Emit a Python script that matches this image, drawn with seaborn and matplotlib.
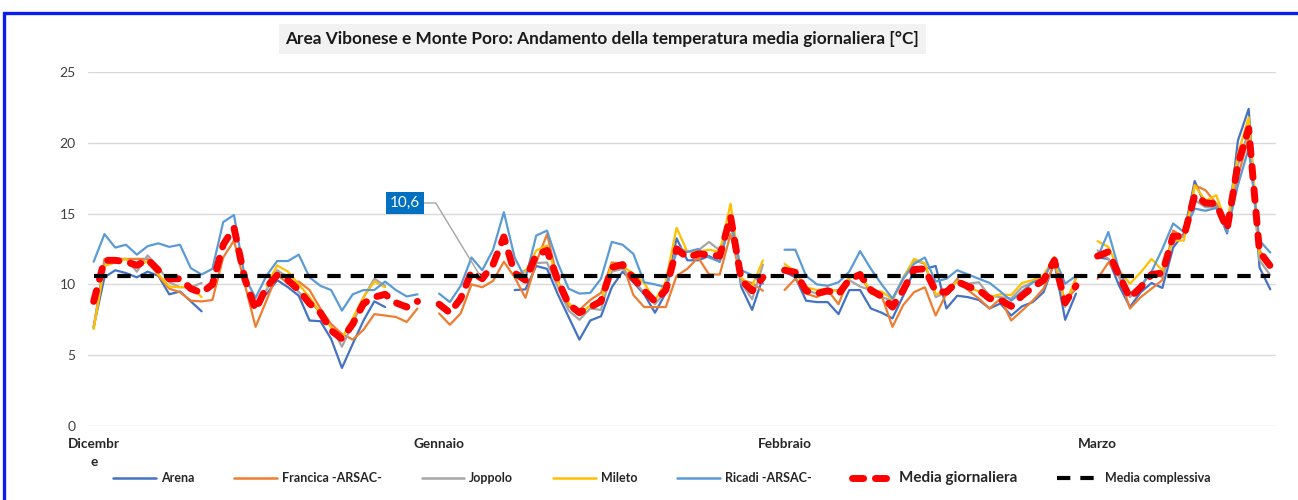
import numpy as np
import pandas as pd
import seaborn as sns
import matplotlib.pyplot as plt
from matplotlib.lines import Line2D
from matplotlib.patches import Rectangle

nan = np.nan

# Etichette dei mesi sull'asse x
mesi = ["Dicembr\ne", "Gennaio", "Febbraio", "Marzo"]

titolo = "Area Vibonese e Monte Poro: Andamento della temperatura media giornaliera [°C]"

stazioni = ["Arena", "Francica -ARSAC-", "Joppolo", "Mileto", "Ricadi -ARSAC-"]
colori = ["#4472C4", "#ED7D31", "#A5A5A5", "#FFC000", "#5B9BD5"]

# Dicembre (1-31)
arena_dic = [7.0, 10.5, 11.0, 10.8, 10.5, 10.9, 10.6, 9.3, 9.5, 8.8, 8.1, nan, nan, nan, nan, nan,
             9.3, 10.3, 9.8, 9.2, 7.45, 7.4, 6.15, 4.1, 5.8, 7.45, 8.8, 8.4, nan, nan, nan]
francica_dic = [6.9, 11.8, 11.8, 11.8, 11.8, 11.8, 10.6, 9.7, 9.45, 8.85, 8.8, 8.9, 11.9, 13.1, 10.0, 7.0,
                8.85, 10.7, 10.05, 10.2, 9.6, 8.3, 7.2, 6.5, 6.1, 6.8, 7.9, 7.8, 7.7, 7.35, 8.3]
joppolo_dic = [7.0, 11.5, 11.65, 11.8, 10.9, 12.05, 11.2, 10.15, 9.8, 9.8, 10.1, nan, nan, nan, nan, nan,
               9.6, 11.0, 10.5, 9.45, 8.75, 8.05, 7.0, 5.6, 7.2, 9.1, 10.4, 9.9, nan, nan, nan]
mileto_dic = [6.85, 11.3, 11.55, 11.8, 11.25, 11.65, 10.7, 9.85, 9.8, 9.85, 9.1, nan, nan, nan, nan, nan,
              9.9, 11.35, 10.9, 10.0, 9.1, 8.0, 6.95, 6.2, 7.6, 9.1, 10.2, 9.8, nan, nan, nan]
ricadi_dic = [11.6, 13.55, 12.6, 12.8, 12.1, 12.7, 12.9, 12.65, 12.8, 11.15, 10.7, 11.1, 14.4, 14.9, 10.5, 9.05,
              10.6, 11.65, 11.65, 12.1, 10.5, 9.9, 9.6, 8.15, 9.3, 9.6, 9.6, 10.2, 9.6, 9.15, 9.3]
media_dic = [8.8, 11.7, 11.7, 11.6, 11.35, 11.75, 11.0, 10.4, 10.4, 9.7, 9.4, 10.0, 12.8, 14.0, 10.4, 8.2,
             9.8, 10.65, 10.3, 9.6, 8.65, 8.0, 6.75, 6.15, 7.2, 8.65, 9.1, 9.3, 8.7, 8.4, 8.8]

# Gennaio (1-31)
arena_gen = [nan, nan, nan, nan, nan, nan, nan, 9.6, 9.65, 11.3, 11.1, 9.3, 7.7, 6.1, 7.45, 7.75,
             9.8, 10.9, 10.15, 9.3, 8.0, 9.4, 13.25, 11.7, 11.7, 12.0, 11.6, 14.7, 9.8, 8.2, 10.5]
francica_gen = [7.95, 7.15, 7.95, 10.0, 9.8, 10.25, 11.6, 10.5, 9.05, 11.55, 13.55, 10.3, 8.4, 8.2, 8.9, 9.4,
                11.55, 11.45, 9.25, 8.4, 8.4, 8.4, 10.6, 11.1, 11.9, 10.7, 10.7, 13.55, 10.3, 10.1, 9.55]
joppolo_gen = [nan, nan, nan, nan, nan, nan, nan, 10.6, 11.0, 11.5, 11.55, 9.8, 8.15, 7.5, 8.3, 8.2,
               10.9, 11.1, 10.3, 9.4, 8.6, 9.5, 12.7, 12.3, 12.4, 13.0, 12.4, 14.5, 10.1, 8.95, 11.4]
mileto_gen = [nan, nan, nan, nan, nan, nan, nan, 10.6, 10.9, 12.4, 12.75, 10.2, 8.7, 7.9, 8.5, 8.8,
              11.45, 11.3, 10.75, 10.1, 8.85, 10.2, 14.0, 12.3, 12.3, 12.45, 12.3, 15.7, 10.45, 9.9, 11.7]
ricadi_gen = [9.35, 8.75, 9.9, 11.9, 11.0, 12.45, 15.1, 11.9, 10.4, 13.45, 13.8, 11.5, 9.7, 9.35, 9.4, 10.4,
              13.0, 12.8, 12.15, 10.15, 10.0, 9.8, 12.3, 12.3, 12.5, 11.9, 11.6, 14.6, 11.0, 10.65, 10.05]
media_gen = [8.6, 8.0, 9.0, 10.9, 10.4, 11.4, 13.35, 10.8, 10.3, 12.1, 12.4, 10.3, 8.6, 8.0, 8.4, 8.8,
             11.2, 11.4, 10.45, 9.55, 8.8, 9.6, 12.5, 11.9, 12.15, 12.1, 12.0, 14.8, 10.3, 9.55, 10.5]

# Febbraio (1-28)
arena_feb = [10.9, 10.5, 8.85, 8.75, 8.75, 7.9, 9.6, 9.6, 8.3, 8.0, 7.6, 9.2, 11.0, 11.1, 11.3, 8.3,
             9.2, 9.1, 8.9, 8.3, 8.65, 7.8, 8.45, 8.75, 9.45, 11.55, 7.5, 9.35]
francica_feb = [9.6, 10.4, 9.35, 9.1, 9.6, 8.6, 10.5, 10.7, 9.35, 9.2, 7.0, 8.55, 9.45, 9.8, 7.8, 9.35,
                10.4, 9.6, 9.0, 8.3, 9.0, 7.45, 8.15, 8.85, 9.7, 11.45, 8.8, 9.7]
joppolo_feb = [11.2, 11.0, 9.6, 9.35, 9.6, 9.6, 10.3, 9.85, 9.6, 9.1, 8.85, 10.5, 11.7, 11.45, 9.1, 9.45,
               10.3, 10.05, 10.15, 9.2, 9.1, 9.0, 9.8, 10.15, 10.5, 11.7, 8.4, 10.5]
mileto_feb = [11.45, 10.9, 9.8, 9.6, 9.7, 9.5, 10.45, 10.7, 9.5, 9.5, 8.95, 10.4, 11.8, 11.5, 9.3, 9.5,
              10.2, 9.8, 9.5, 9.1, 9.3, 9.25, 10.1, 10.3, 10.65, 11.95, 8.65, 10.4]
ricadi_feb = [12.45, 12.45, 10.6, 10.0, 9.9, 10.15, 10.9, 12.35, 11.1, 10.0, 9.0, 10.4, 11.45, 11.9, 10.2, 10.4,
              11.0, 10.7, 10.4, 10.1, 9.5, 8.85, 9.5, 10.15, 10.4, 11.9, 10.05, 10.6]
media_feb = [11.0, 10.85, 9.55, 9.35, 9.55, 9.3, 10.35, 10.7, 9.6, 9.15, 8.4, 9.6, 11.05, 11.1, 9.5, 9.45,
             10.2, 9.85, 9.6, 9.0, 8.9, 8.45, 9.2, 9.8, 10.3, 11.7, 8.7, 9.9]

# Marzo (1-17)
arena_mar = [11.9, 11.8, 9.9, 8.4, 9.45, 10.1, 9.75, 12.6, 13.6, 17.3, 15.5, 15.55, 13.6, 20.15, 22.4, 11.2, 9.65]
francica_mar = [10.4, 11.55, 10.6, 8.3, 9.1, 9.7, 10.3, 13.8, 13.35, 17.0, 16.65, 15.7, 14.3, 17.6, 20.4, 12.4, 11.35]
joppolo_mar = [12.4, 11.8, 10.5, 9.1, 9.8, 10.9, 10.5, 13.35, 13.35, 15.95, 15.45, 15.45, 14.05, 18.4, 20.9, 11.7, 10.65]
mileto_mar = [13.05, 12.65, 11.0, 10.05, 10.85, 11.8, 11.0, 13.1, 13.1, 17.0, 15.9, 16.3, 14.15, 19.2, 21.8, 12.2, 11.35]
ricadi_mar = [11.9, 13.7, 11.0, 9.35, 9.9, 10.9, 12.5, 14.3, 13.7, 15.35, 15.2, 15.4, 13.7, 17.0, 19.6, 13.1, 12.25]
media_mar = [12.0, 12.3, 10.6, 9.05, 9.8, 10.7, 10.8, 13.4, 13.4, 16.3, 15.75, 15.7, 13.9, 18.5, 21.0, 12.3, 11.3]

media_complessiva = 10.6


def unisci(*blocchi):
    # concatena i mesi lasciando una riga vuota tra un mese e l'altro
    valori, inizi = [], []
    for k, b in enumerate(blocchi):
        if k > 0:
            valori.append(nan)
        inizi.append(len(valori))
        valori.extend(b)
    return np.array(valori, dtype=float), inizi


serie = {}
serie["Arena"], inizi_mesi = unisci(arena_dic, arena_gen, arena_feb, arena_mar)
serie["Francica -ARSAC-"], _ = unisci(francica_dic, francica_gen, francica_feb, francica_mar)
serie["Joppolo"], _ = unisci(joppolo_dic, joppolo_gen, joppolo_feb, joppolo_mar)
serie["Mileto"], _ = unisci(mileto_dic, mileto_gen, mileto_feb, mileto_mar)
serie["Ricadi -ARSAC-"], _ = unisci(ricadi_dic, ricadi_gen, ricadi_feb, ricadi_mar)
media, _ = unisci(media_dic, media_gen, media_feb, media_mar)
n = len(media)
pos = np.arange(n)


def long_form(y, nome):
    # un segmento per ogni tratto continuo (i buchi restano buchi)
    seg = np.cumsum(np.isnan(y))
    ok = ~np.isnan(y)
    return pd.DataFrame({"giorno": pos[ok], "temp": y[ok], "serie": nome, "seg": seg[ok]})


df = pd.concat([long_form(y, k) for k, y in serie.items()], ignore_index=True)
df_media = long_form(media, "Media giornaliera")
df_compl = pd.DataFrame({"giorno": pos, "temp": np.full(n, media_complessiva)})

sns.set_theme(style="white")
plt.rcParams["font.family"] = ["Lato", "DejaVu Sans"]

fig = plt.figure(figsize=(12.98, 5.0), dpi=100)
ax = fig.add_axes([0.068, 0.148, 0.9148, 0.708])

dash_media = (0, (1.6, 1.7))
dash_compl = (0, (3.2, 2.4))

sns.lineplot(data=df, x="giorno", y="temp", hue="serie", units="seg", estimator=None,
             palette=dict(zip(stazioni, colori)), hue_order=stazioni, linewidth=1.6,
             legend=False, ax=ax)
sns.lineplot(data=df_media, x="giorno", y="temp", units="seg", estimator=None,
             color="#FF0000", linewidth=5, linestyle=dash_media, dash_capstyle="round",
             legend=False, ax=ax)
sns.lineplot(data=df_compl, x="giorno", y="temp", color="black", linewidth=3,
             linestyle=dash_compl, legend=False, ax=ax)

ax.set_xlim(-0.5, n - 0.5)
ax.set_ylim(0, 25)
ax.set_yticks(range(0, 26, 5))
ax.set_xticks(inizi_mesi)
ax.set_xticklabels(mesi, fontweight="bold", fontsize=9.8, color="#262626")
for lab in ax.get_xticklabels():
    lab.set_linespacing(1.6)
ax.set_xlabel("")
ax.set_ylabel("")
ax.grid(axis="y", color="#D9D9D9", linewidth=1)
ax.set_axisbelow(True)
for s in ax.spines.values():
    s.set_visible(False)
ax.tick_params(axis="y", length=0, pad=9, labelsize=10, labelcolor="#404040")
ax.tick_params(axis="x", length=0, pad=9)

# etichetta del valore medio complessivo
ax.annotate("10,6", xy=(35.8, media_complessiva), xytext=(28.85, 15.75),
            ha="center", va="center", color="white", fontsize=11,
            bbox=dict(boxstyle="square,pad=0.28", fc="#0070C0", ec="none"),
            arrowprops=dict(arrowstyle="-", color="#A5A5A5", lw=1, shrinkA=0, shrinkB=0,
                            connectionstyle="angle,angleA=0,angleB=-58.7,rad=0"))

fig.text(0.464, 0.922, titolo, ha="center", va="center", fontsize=12.4, fontweight="bold",
         color="#1a1a1a",
         bbox=dict(boxstyle="square,pad=0.4", fc="#F2F2F2", ec="none"))

handles = [Line2D([], [], color=c, lw=1.8) for c in colori]
handles.append(Line2D([], [], color="#FF0000", lw=5, linestyle=dash_media, dash_capstyle="round"))
handles.append(Line2D([], [], color="black", lw=3, linestyle=dash_compl))
etichette = stazioni + ["Media giornaliera", "Media complessiva"]
leg = fig.legend(handles, etichette, loc="center", bbox_to_anchor=(0.51, 0.044), ncol=7,
                 frameon=False, handlelength=3.4, handletextpad=0.4, columnspacing=3.2,
                 prop={"weight": "bold", "size": 9})
for t in leg.get_texts():
    if t.get_text() == "Media giornaliera":
        t.set_fontsize(11)

# bordo blu del riquadro
fig.patches.append(Rectangle((0.0027, -0.1), 1.2, 1.0735, transform=fig.transFigure,
                             fill=False, ec="#0A1EF0", lw=2.4, figure=fig))

fig.savefig("out.png", dpi=100)
